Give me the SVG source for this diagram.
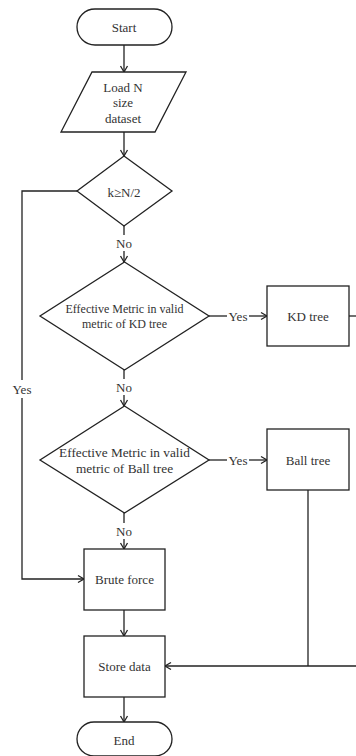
<svg xmlns="http://www.w3.org/2000/svg" width="356" height="756" viewBox="0 0 356 756">
<defs>
<marker id="arr" markerWidth="10" markerHeight="10" refX="8" refY="5" orient="auto" markerUnits="userSpaceOnUse">
<path d="M2,1.5 L8,5 L2,8.5" fill="none" stroke="#222" stroke-width="1.3"/>
</marker>
</defs>
<style>
.s{fill:#fff;stroke:#222;stroke-width:1.3}
.c{fill:none;stroke:#222;stroke-width:1.3}
text{font-family:"Liberation Serif","Times New Roman",serif;font-size:13px;fill:#333;text-anchor:middle;dominant-baseline:central}
.sm{font-size:12px}
.md{font-size:13.3px}
</style>
<rect width="356" height="756" fill="#fff"/>
<g id="connectors">
<line class="c" x1="124" y1="45" x2="124" y2="72" marker-end="url(#arr)"/>
<line class="c" x1="124" y1="132" x2="124" y2="156" marker-end="url(#arr)"/>
<line class="c" x1="124" y1="226" x2="124" y2="235"/>
<line class="c" x1="124" y1="251" x2="124" y2="262" marker-end="url(#arr)"/>
<line class="c" x1="209" y1="316" x2="227" y2="316"/>
<line class="c" x1="249" y1="316" x2="267" y2="316" marker-end="url(#arr)"/>
<line class="c" x1="349" y1="316" x2="358" y2="316"/>
<line class="c" x1="124" y1="370" x2="124" y2="379"/>
<line class="c" x1="124" y1="395" x2="124" y2="406" marker-end="url(#arr)"/>
<line class="c" x1="209" y1="460" x2="227" y2="460"/>
<line class="c" x1="249" y1="460" x2="267" y2="460" marker-end="url(#arr)"/>
<line class="c" x1="124" y1="513" x2="124" y2="523"/>
<line class="c" x1="124" y1="539" x2="124" y2="549" marker-end="url(#arr)"/>
<polyline class="c" points="77,191 22,191 22,380"/>
<polyline class="c" points="22,398 22,579 84,579" marker-end="url(#arr)"/>
<line class="c" x1="124" y1="610" x2="124" y2="636" marker-end="url(#arr)"/>
<line class="c" x1="308" y1="490" x2="308" y2="666"/>
<line class="c" x1="358" y1="666" x2="165" y2="666" marker-end="url(#arr)"/>
<line class="c" x1="124" y1="697" x2="124" y2="722" marker-end="url(#arr)"/>
<text x="124" y="243">No</text>
<text x="238" y="316">Yes</text>
<text x="124" y="387">No</text>
<text x="238" y="460">Yes</text>
<text x="124" y="531">No</text>
<text x="22" y="389">Yes</text>
</g>
<g id="start">
<rect class="s" x="77" y="9" width="95" height="36" rx="18"/>
<text x="124" y="27">Start</text>
</g>
<g id="load">
<polygon class="s" points="92,72 186,72 155,132 61,132"/>
<text x="123" y="87">Load N</text>
<text x="123" y="102">size</text>
<text x="123" y="118">dataset</text>
</g>
<g id="kcheck">
<polygon class="s" points="124,156 172,191 124,226 77,191"/>
<text x="124" y="192">k≥N/2</text>
</g>
<g id="kdcheck">
<polygon class="s" points="124.5,262 209,316 124.5,370 40,316"/>
<text class="sm" x="124.5" y="309">Effective Metric in valid</text>
<text class="sm" x="124.5" y="324">metric of KD tree</text>
</g>
<g id="kdtree">
<rect class="s" x="267" y="286" width="82" height="60"/>
<text x="308" y="316">KD tree</text>
</g>
<g id="ballcheck">
<polygon class="s" points="124.5,406 209,460 124.5,513 40,460"/>
<text class="md" x="124.5" y="452">Effective Metric in valid</text>
<text class="md" x="124.5" y="468">metric of Ball tree</text>
</g>
<g id="balltree">
<rect class="s" x="267" y="429" width="82" height="61"/>
<text x="308" y="460">Ball tree</text>
</g>
<g id="brute">
<rect class="s" x="84" y="549" width="81" height="61"/>
<text x="124.5" y="579">Brute force</text>
</g>
<g id="store">
<rect class="s" x="84" y="636" width="81" height="61"/>
<text x="124.5" y="666">Store data</text>
</g>
<g id="end">
<rect class="s" x="77" y="722" width="95" height="34" rx="17"/>
<text x="124" y="740">End</text>
</g>
</svg>
